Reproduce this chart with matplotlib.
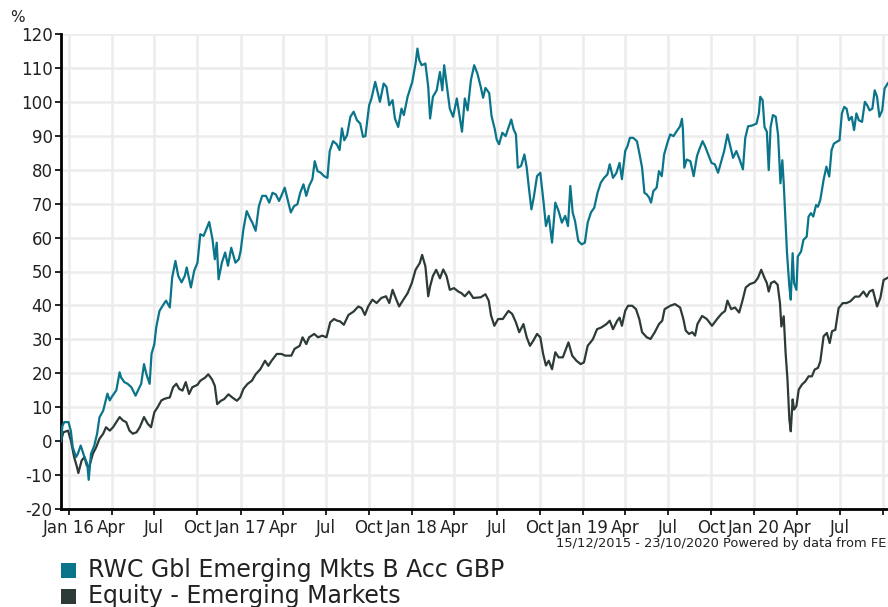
import matplotlib
matplotlib.use('Agg')
import matplotlib.pyplot as plt
import pandas as pd
from matplotlib.patches import Rectangle

plt.rcParams['axes.unicode_minus'] = False

fund_name = "RWC Gbl Emerging Mkts B Acc GBP"
sector_name = "Equity - Emerging Markets"

fund_dates = [
 '2015-12-15','2015-12-18','2015-12-22','2015-12-31','2016-01-05','2016-01-09','2016-01-16','2016-01-20','2016-01-26',
 '2016-02-03','2016-02-09','2016-02-12','2016-02-17','2016-02-24','2016-03-01','2016-03-06','2016-03-14','2016-03-23',
 '2016-03-28','2016-04-01','2016-04-11','2016-04-18','2016-04-21','2016-04-28','2016-05-05','2016-05-13','2016-05-22',
 '2016-05-27','2016-06-03','2016-06-09','2016-06-14','2016-06-21','2016-06-25','2016-07-01','2016-07-05','2016-07-12',
 '2016-07-21','2016-07-26','2016-08-03','2016-08-08','2016-08-15','2016-08-21','2016-08-28','2016-09-04','2016-09-08',
 '2016-09-17','2016-09-24','2016-10-01','2016-10-07','2016-10-14','2016-10-20','2016-10-26','2016-11-02','2016-11-07',
 '2016-11-11','2016-11-15','2016-11-22','2016-11-29','2016-12-05','2016-12-12','2016-12-21','2016-12-28','2017-01-01',
 '2017-01-07','2017-01-14','2017-01-22','2017-01-26','2017-02-02','2017-02-09','2017-02-16','2017-02-24','2017-03-03',
 '2017-03-10','2017-03-17','2017-03-24','2017-03-30','2017-04-05','2017-04-12','2017-04-18','2017-04-25','2017-05-02',
 '2017-05-08','2017-05-15','2017-05-21','2017-05-27','2017-06-03','2017-06-08','2017-06-14','2017-06-21','2017-06-28',
 '2017-07-05','2017-07-10','2017-07-17','2017-07-25','2017-07-31','2017-08-05','2017-08-10','2017-08-16','2017-08-23',
 '2017-08-30','2017-09-06','2017-09-13','2017-09-19','2017-09-24','2017-10-02','2017-10-07','2017-10-15','2017-10-20',
 '2017-10-25','2017-11-02','2017-11-08','2017-11-14','2017-11-21','2017-11-26','2017-12-03','2017-12-10','2017-12-15',
 '2017-12-23','2018-01-02','2018-01-09','2018-01-13','2018-01-17','2018-01-22','2018-01-30','2018-02-05','2018-02-09',
 '2018-02-15','2018-02-23','2018-03-02','2018-03-07','2018-03-11','2018-03-16','2018-03-23','2018-03-30','2018-04-07',
 '2018-04-12','2018-04-18','2018-04-24','2018-04-30','2018-05-07','2018-05-14','2018-05-21','2018-05-28','2018-06-02',
 '2018-06-07','2018-06-15','2018-06-20','2018-06-27','2018-07-01','2018-07-06','2018-07-13','2018-07-20','2018-07-26',
 '2018-08-01','2018-08-06','2018-08-11','2018-08-15','2018-08-22','2018-08-29','2018-09-03','2018-09-08','2018-09-13',
 '2018-09-18','2018-09-25','2018-10-02','2018-10-09','2018-10-14','2018-10-20','2018-10-27','2018-11-03','2018-11-10',
 '2018-11-17','2018-11-24','2018-11-30','2018-12-05','2018-12-10','2018-12-15','2018-12-22','2018-12-29','2019-01-05',
 '2019-01-11','2019-01-18','2019-01-25','2019-02-01','2019-02-08','2019-02-15','2019-02-22','2019-02-27','2019-03-06',
 '2019-03-13','2019-03-20','2019-03-25','2019-04-01','2019-04-06','2019-04-11','2019-04-18','2019-04-26','2019-05-01',
 '2019-05-07','2019-05-12','2019-05-17','2019-05-22','2019-05-26','2019-05-31','2019-06-07','2019-06-12','2019-06-18',
 '2019-06-23','2019-07-01','2019-07-06','2019-07-13','2019-07-20','2019-07-27','2019-07-31','2019-08-02','2019-08-05',
 '2019-08-10','2019-08-18','2019-08-25','2019-09-01','2019-09-06','2019-09-13','2019-09-18','2019-09-25','2019-10-02',
 '2019-10-09','2019-10-16','2019-10-22','2019-10-29','2019-11-05','2019-11-10','2019-11-17','2019-11-24','2019-12-01',
 '2019-12-08','2019-12-13','2019-12-19','2019-12-27','2020-01-06','2020-01-11','2020-01-14','2020-01-19','2020-01-23',
 '2020-01-28','2020-02-01','2020-02-05','2020-02-10','2020-02-16','2020-02-21','2020-02-26','2020-03-01','2020-03-04',
 '2020-03-08','2020-03-11','2020-03-16','2020-03-19','2020-03-23','2020-03-26','2020-03-31','2020-04-03','2020-04-10',
 '2020-04-15','2020-04-22','2020-04-26','2020-05-01','2020-05-06','2020-05-12','2020-05-16','2020-05-21','2020-05-28',
 '2020-06-03','2020-06-09','2020-06-14','2020-06-19','2020-07-01','2020-07-06','2020-07-11','2020-07-16','2020-07-21',
 '2020-07-27','2020-08-01','2020-08-06','2020-08-11','2020-08-18','2020-08-24','2020-08-29','2020-09-03','2020-09-09',
 '2020-09-14','2020-09-19','2020-09-24','2020-09-30','2020-10-05','2020-10-12','2020-10-23']
fund_values = [
 0, 4.5, 5.6, 5.6, 3, -1.8, -4.7, -3.7, -1.3,
 -4.7, -6.7, -11.4, -3.7, -1.3, 2.2, 7, 9, 14,
 12, 13, 15, 20.3, 18.8, 17.4, 16.9, 15.9, 13.4,
 14.9, 16.9, 22.7, 19.8, 16.9, 25.7, 28.6, 33.5, 38.4,
 40.4, 41.4, 39.4, 48.2, 53.1, 48.7, 46.8, 48.7, 51.2,
 45.3, 50.2, 52.6, 61, 60.5, 62.5, 64.6, 59.5, 53.6,
 58.5, 47.7, 52.6, 55.6, 51.7, 57, 52.6, 53.6, 56,
 62.5, 67.8, 65.4, 64.4, 62, 69.3, 72.3, 72.3, 70.3,
 73.2, 72.7, 70.8, 72.7, 74.7, 70.8, 67.4, 69.3, 69.8,
 73.2, 75.7, 72.3, 75.2, 77.2, 82.5, 79.6, 79.1, 78.1,
 77.6, 85.5, 88.4, 87.5, 85.8, 92.2, 88.7, 90.2, 95.6,
 97.1, 94.6, 93.6, 89.7, 89.9, 99, 101, 105.9, 102.9,
 100, 105.4, 104.4, 99, 100.5, 95.1, 92.6, 98, 96.1,
 101.5, 105.9, 111.3, 115.7, 112.3, 110.8, 111.3, 104.4, 95.1,
 101.5, 103.4, 108.8, 103.4, 110.8, 105.4, 98, 95.6, 101,
 96.6, 91.2, 101, 97.5, 106.4, 110.8, 108.3, 104.4, 101.2,
 104.1, 102.6, 95.8, 91.9, 88.9, 87.5, 90.9, 89.9, 92.4,
 94.8, 91.9, 90.4, 80.6, 81.1, 84.5, 80.6, 74.2, 68.3,
 71.8, 78.1, 79.1, 70.3, 63.4, 66.4, 58.5, 70.3, 67.8,
 64.4, 66.4, 63.4, 75.2, 67.4, 64.9, 59, 58, 58.5,
 64.4, 67.4, 68.8, 73.2, 76.2, 77.6, 78.6, 81.6, 77.6,
 79, 82, 77.2, 85.5, 87, 89.4, 89.4, 88.4, 85,
 80.6, 73.2, 72.7, 71.8, 70.3, 73.7, 74.7, 79.6, 78.1,
 84.5, 88.4, 90.4, 89.9, 91.4, 92.8, 95, 91.9, 80.6,
 83, 82.5, 78.1, 84, 86, 88.4, 87, 84.5, 82,
 81.6, 79.1, 82, 85.5, 90.4, 87.5, 83.5, 85.5, 83,
 80.1, 89.4, 92.8, 93, 93.6, 96.6, 101.5, 100.5, 92.6,
 91.2, 79.9, 92.6, 96.1, 95.6, 90.2, 76, 82.8, 76,
 64.2, 55.4, 45.6, 41.7, 55.4, 46.6, 44.6, 54.4, 55.9,
 59.3, 60.3, 66.2, 67.2, 66.2, 69.6, 69.1, 71.1, 77,
 80.9, 78, 85.8, 87.7, 88.7, 96.6, 98.5, 98, 94.6,
 95.6, 91.7, 96.6, 94.6, 94.1, 100, 99, 97.5, 98,
 103.4, 101.5, 95.6, 97.5, 103.9, 105.5, 107]

sector_dates = [
 '2015-12-15','2015-12-20','2015-12-30','2016-01-05','2016-01-12','2016-01-18','2016-01-21','2016-01-28','2016-02-03',
 '2016-02-08','2016-02-13','2016-02-21','2016-02-28','2016-03-06','2016-03-14','2016-03-20','2016-03-28','2016-04-04',
 '2016-04-11','2016-04-18','2016-04-25','2016-05-02','2016-05-09','2016-05-16','2016-05-24','2016-05-31','2016-06-09',
 '2016-06-17','2016-06-24','2016-07-01','2016-07-08','2016-07-16','2016-07-23','2016-08-03','2016-08-10','2016-08-17',
 '2016-08-23','2016-08-30','2016-09-06','2016-09-13','2016-09-20','2016-10-01','2016-10-07','2016-10-17','2016-10-24',
 '2016-11-01','2016-11-07','2016-11-12','2016-11-20','2016-11-27','2016-12-06','2016-12-14','2016-12-24','2016-12-31',
 '2017-01-07','2017-01-16','2017-01-25','2017-02-02','2017-02-12','2017-02-22','2017-03-01','2017-03-08','2017-03-19',
 '2017-03-29','2017-04-06','2017-04-19','2017-04-26','2017-05-07','2017-05-13','2017-05-21','2017-05-27','2017-06-07',
 '2017-06-15','2017-06-24','2017-07-03','2017-07-11','2017-07-19','2017-07-26','2017-08-01','2017-08-09','2017-08-19',
 '2017-08-30','2017-09-09','2017-09-16','2017-09-23','2017-09-30','2017-10-09','2017-10-18','2017-10-28','2017-11-07',
 '2017-11-14','2017-11-21','2017-11-29','2017-12-05','2017-12-14','2017-12-23','2018-01-01','2018-01-09','2018-01-18',
 '2018-01-23','2018-01-30','2018-02-05','2018-02-09','2018-02-15','2018-02-22','2018-03-02','2018-03-09','2018-03-16',
 '2018-03-23','2018-04-01','2018-04-10','2018-04-17','2018-04-24','2018-05-03','2018-05-12','2018-05-28','2018-06-07',
 '2018-06-14','2018-06-19','2018-06-26','2018-07-04','2018-07-14','2018-07-26','2018-08-03','2018-08-11','2018-08-18',
 '2018-08-27','2018-09-03','2018-09-10','2018-09-17','2018-09-25','2018-10-02','2018-10-08','2018-10-14','2018-10-20',
 '2018-10-27','2018-11-03','2018-11-10','2018-11-19','2018-12-01','2018-12-09','2018-12-18','2018-12-27','2019-01-03',
 '2019-01-11','2019-01-22','2019-01-31','2019-02-09','2019-02-20','2019-02-27','2019-03-06','2019-03-15','2019-03-20',
 '2019-03-25','2019-04-01','2019-04-07','2019-04-16','2019-04-24','2019-05-01','2019-05-07','2019-05-17','2019-05-25',
 '2019-06-03','2019-06-12','2019-06-19','2019-06-24','2019-07-06','2019-07-16','2019-07-27','2019-08-03','2019-08-08',
 '2019-08-15','2019-08-22','2019-08-28','2019-09-02','2019-09-12','2019-09-22','2019-10-03','2019-10-14','2019-10-23',
 '2019-10-31','2019-11-05','2019-11-13','2019-11-21','2019-11-30','2019-12-07','2019-12-14','2019-12-23','2020-01-02',
 '2020-01-09','2020-01-16','2020-01-23','2020-01-28','2020-02-01','2020-02-06','2020-02-13','2020-02-20','2020-02-25',
 '2020-02-28','2020-03-04','2020-03-08','2020-03-12','2020-03-16','2020-03-19','2020-03-23','2020-03-26','2020-03-31',
 '2020-04-05','2020-04-12','2020-04-19','2020-04-26','2020-05-03','2020-05-09','2020-05-16','2020-05-21','2020-05-28',
 '2020-06-04','2020-06-10','2020-06-15','2020-06-22','2020-06-29','2020-07-08','2020-07-16','2020-07-24','2020-08-03',
 '2020-08-12','2020-08-21','2020-08-28','2020-09-03','2020-09-10','2020-09-19','2020-09-26','2020-10-03','2020-10-23']
sector_values = [
 0, 2.6, 3.1, 0.2, -4.7, -7.6, -9.4, -5.7, -4.7,
 -7.2, -7.6, -3.7, -1.8, 0.7, 2.2, 4.1, 3.1, 4.1,
 5.6, 7.1, 6.1, 5.6, 3.1, 2.2, 2.6, 4.1, 7.1,
 5.1, 4.1, 8.5, 10, 12, 12.5, 12.9, 15.9, 16.9,
 15.4, 14.9, 17.4, 13.9, 15.9, 16.6, 17.8, 18.7, 19.7,
 18.2, 16.3, 10.9, 11.9, 12.4, 13.8, 12.9, 11.9, 12.9,
 15.4, 16.9, 17.8, 19.7, 21.2, 23.7, 22.2, 23.7, 25.7,
 25.7, 25.2, 25.2, 27.2, 28.1, 30.6, 28.6, 30.6, 31.6,
 30.6, 31.1, 30.6, 35, 36, 35.5, 35.3, 34.3, 37.2,
 38.2, 39.7, 39.2, 37.2, 39.7, 41.7, 40.7, 42.2, 42.7,
 40.7, 44.6, 41.7, 39.7, 41.7, 43.6, 46.6, 50.5, 52.5,
 54.9, 51.5, 42.7, 45.6, 48.7, 50.5, 48, 50.6, 48.7,
 44.6, 45.1, 44.1, 43.6, 42.7, 44.1, 42.2, 42.4, 43.3,
 41.4, 37, 34, 36, 36, 38.4, 37.5, 35, 32.1,
 34.5, 30.6, 28.1, 29.6, 31.6, 30.6, 25.7, 22.3, 23.7,
 21.2, 26.2, 24.7, 24.7, 29.1, 25.2, 23.7, 22.7, 23.2,
 28.1, 30, 33, 33.5, 34.5, 35.5, 33, 35.5, 36.4,
 34, 38.4, 39.9, 39.9, 38.9, 36, 32.1, 30.6, 30.1,
 32.1, 34.5, 35.5, 38.9, 39.9, 40.4, 39.4, 36, 32.6,
 31.6, 32.1, 31.1, 34.5, 36.9, 36, 34, 36, 37.5,
 38.4, 41.4, 38.9, 39.4, 37.9, 41.4, 45.3, 46.3, 46.8,
 48.1, 50.5, 48.1, 46.6, 44.1, 46.6, 47.1, 46.1, 40.7,
 33.8, 36.8, 26, 18.2, 6.4, 2.9, 12.3, 9.3, 10.3,
 15.2, 16.7, 17.6, 19.1, 19.1, 21.1, 21.6, 23.5, 30.9,
 31.9, 28.9, 32.4, 32.8, 39.2, 40.7, 40.7, 41.2, 42.6,
 42.6, 44.1, 42.6, 44.1, 44.6, 39.7, 42.2, 47.5, 49]

tick_dates = ['2016-01-01','2016-04-01','2016-07-01','2016-10-01','2017-01-01','2017-04-01','2017-07-01','2017-10-01',
              '2018-01-01','2018-04-01','2018-07-01','2018-10-01','2019-01-01','2019-04-01','2019-07-01','2019-10-01',
              '2020-01-01','2020-04-01','2020-07-01','2020-10-01']
tick_labels = ['Jan 16','Apr','Jul','Oct','Jan 17','Apr','Jul','Oct','Jan 18','Apr','Jul','Oct',
               'Jan 19','Apr','Jul','Oct','Jan 20','Apr','Jul','']
y_ticks = list(range(-20, 121, 10))
start_date, end_date = '2015-12-15', '2020-10-23'
footer = "15/12/2015 - 23/10/2020 Powered by data from FE"

fund_color = '#0A758A'
sector_color = '#2D3A37'

W, H = 888, 607
fig = plt.figure(figsize=(W/100, H/100), dpi=100)
ax = fig.add_axes([61/W, (H-509)/H, 832/W, 475/H])

ax.plot(pd.to_datetime(sector_dates), sector_values, color=sector_color, lw=1.6, zorder=3)
ax.plot(pd.to_datetime(fund_dates), fund_values, color=fund_color, lw=1.6, zorder=4)

ax.set_xlim(pd.Timestamp(start_date), pd.Timestamp(end_date))
ax.set_ylim(-20, 120)
ax.set_yticks(y_ticks)
ax.set_xticks(pd.to_datetime(tick_dates))
ax.set_xticklabels(tick_labels)
ax.grid(True, color='#ececec', lw=1.8, zorder=0)
ax.set_axisbelow(True)
for s in ['top', 'right']:
    ax.spines[s].set_visible(False)
for s in ['left', 'bottom']:
    ax.spines[s].set_linewidth(2)
    ax.spines[s].set_color('black')
ax.tick_params(axis='both', length=4, width=1.2, color='black', labelsize=12, labelcolor='#222222')
ax.tick_params(axis='y', pad=2)
ax.tick_params(axis='x', pad=3)

fig.text(10/W, 1-18/H, '%', fontsize=11, va='center', ha='left', color='#222222')
fig.text(886/W, 1-543/H, footer, fontsize=9.4, va='center', ha='right', color='#222222')

legend_items = [(fund_name, fund_color), (sector_name, sector_color)]
for i, (name, col) in enumerate(legend_items):
    yc = 570 + 26*i
    fig.patches.append(Rectangle((61/W, 1-(yc+8)/H), 15/W, 15/H, transform=fig.transFigure,
                                 facecolor=col, edgecolor='none'))
    fig.text(88/W, 1-yc/H, name, fontsize=17, va='center', ha='left', color='#222222')

fig.savefig('out.png', dpi=100)
